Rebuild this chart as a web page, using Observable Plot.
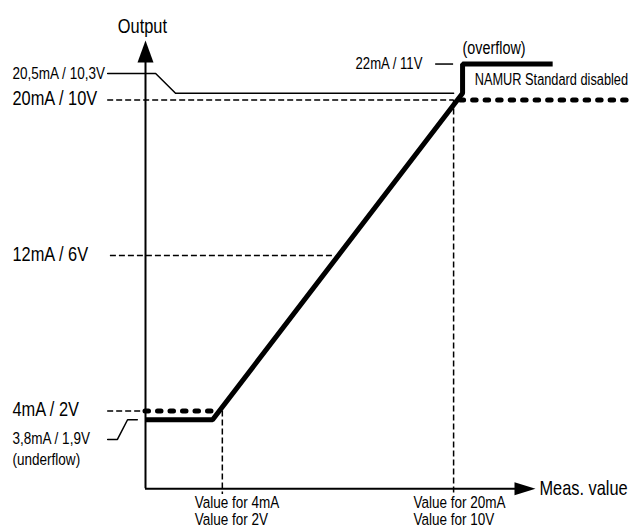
<!DOCTYPE html>
<html>
<head>
<meta charset="utf-8">
<script src="https://cdn.jsdelivr.net/npm/d3@7"></script>
<script src="https://cdn.jsdelivr.net/npm/@observablehq/plot@0.6"></script>
<style>
  html, body { margin: 0; padding: 0; background: #fff; }
  #chart { width: 641px; height: 528px; }
</style>
</head>
<body>
<div id="chart"></div>
<script>
// ---------------- data (output level as drawn in the schematic, measured value in % of axis) ----------------
const levelLabels = ["20mA / 10V", "12mA / 6V", "4mA / 2V"];
const levelValues = [20, 12, 4];
const levelGuideStart = [-9.7, -9.0, -9.7];
const levelGuideEnd = [79.0, 48.5, 0];

// thick output characteristic (underflow hold, linear range, jump to overflow)
const curveX = [0, 17.2, 81.3, 81.3, 104.4];
const curveY = [3.55, 3.55, 20.35, 21.85, 21.85];

// "NAMUR Standard disabled" continuation (thick dotted)
const dottedStart = [0, 80.8];
const dottedEnd = [18.7, 124.4];
const dottedLevel = [4, 20];

// NAMUR upper limit line (20,5mA) with its label leader
const namurX = [-9.7, 2.6, 7.7, 79.0];
const namurY = [21.36, 21.36, 20.35, 20.35];

// underflow label leader
const underLeadX = [-9.7, -7.2, -4.6, -2.1];
const underLeadY = [2.54, 2.54, 3.55, 3.55];

// overflow label leader
const overLeadX = [74.4, 79.0];
const overLevel = 21.85;

// measured-value markers on the x axis
const markX = [19.7, 79.0];
const markTop = [4, 20];
const markLabel1 = ["Value for 4mA", "Value for 20mA"];
const markLabel2 = ["Value for 2V", "Value for 10V"];
const markLabelX = [12.6, 68.7];

// small annotation texts on the left
const noteTexts = ["20,5mA / 10,3V", "3,8mA / 1,9V", "(underflow)"];
const noteY = [21.36, 2.59, 1.51];
const leftLabelX = -34.1;

// axes
const xAxisEnd = 100;
const yAxisEnd = 23.06;

// ---------------- font detection ----------------
const probe = document.createElement("canvas").getContext("2d");
function tw(font) { probe.font = font; return probe.measureText("20mA / 10V Value for").width; }
const hasNarrow = tw("20px 'Liberation Sans Narrow', 'Liberation Sans'") < 0.92 * tw("20px 'Liberation Sans'");
const FONT = hasNarrow ? "'Liberation Sans Narrow', 'Arial Narrow', sans-serif" : "'Liberation Sans', Arial, sans-serif";

// ---------------- tables built from arrays ----------------
const levels = levelLabels.map((label, i) => ({label, y: levelValues[i], x1: levelGuideStart[i], x2: levelGuideEnd[i]}));
const curve = curveX.map((x, i) => ({x, y: curveY[i]}));
const dotted = dottedStart.map((x1, i) => ({x1, x2: dottedEnd[i], y: dottedLevel[i]}));
const namur = namurX.map((x, i) => ({x, y: namurY[i]}));
const underLead = underLeadX.map((x, i) => ({x, y: underLeadY[i]}));
const marks = markX.map((x, i) => ({x, top: markTop[i], label: markLabel1[i] + "\n" + markLabel2[i], lx: markLabelX[i]}));
const notes = noteTexts.map((t, i) => ({t, y: noteY[i], x: leftLabelX}));

const arrowUp = {draw(ctx) { ctx.moveTo(0, 0); ctx.lineTo(8, 22); ctx.lineTo(-8, 22); ctx.closePath(); }};
const arrowRight = {draw(ctx) { ctx.moveTo(0, 0); ctx.lineTo(-21, -6.5); ctx.lineTo(-21, 6.5); ctx.closePath(); }};

const thin = 1.5;
const dash = "6,3";

const chart = Plot.plot({
  width: 641,
  height: 528,
  margin: 0,
  style: {background: "#fff", fontFamily: FONT},
  x: {domain: [0, 100], range: [145, 535], axis: null},
  y: {domain: [4, 20], range: [410.5, 99.5], axis: null},
  marks: [
    Plot.ruleY(levels, {y: "y", x1: "x1", x2: "x2", stroke: "#000", strokeWidth: thin, strokeDasharray: dash}),
    Plot.ruleX(marks, {x: "x", y1: "top", y2: -0.3, stroke: "#000", strokeWidth: thin, strokeDasharray: dash}),
    Plot.ruleY(dotted, {y: "y", x1: "x1", x2: "x2", stroke: "#000", strokeWidth: 5, strokeDasharray: "3.5,9", strokeLinecap: "round"}),
    Plot.line(namur, {x: "x", y: "y", stroke: "#000", strokeWidth: thin}),
    Plot.line(underLead, {x: "x", y: "y", stroke: "#000", strokeWidth: thin}),
    Plot.ruleY([overLevel], {x1: overLeadX[0], x2: overLeadX[1], stroke: "#000", strokeWidth: thin}),
    Plot.ruleX([0], {y1: 0, y2: yAxisEnd - 0.5, stroke: "#000", strokeWidth: 2}),
    Plot.ruleY([0], {x1: 0, x2: xAxisEnd - 4, stroke: "#000", strokeWidth: 2}),
    Plot.dot([yAxisEnd], {x: 0, y: (d) => d, symbol: arrowUp, fill: "#000", stroke: null}),
    Plot.dot([xAxisEnd], {x: (d) => d, y: 0, symbol: arrowRight, fill: "#000", stroke: null}),
    Plot.line(curve, {x: "x", y: "y", stroke: "#000", strokeWidth: 5, strokeLinejoin: "miter", strokeLinecap: "butt"}),
    Plot.text(levels, {x: leftLabelX, y: "y", text: "label", textAnchor: "start", fontSize: 20, fill: "#000", dy: -1}),
    Plot.text(notes, {x: "x", y: "y", text: "t", textAnchor: "start", fontSize: 16.5, fill: "#000"}),
    Plot.text(["22mA / 11V"], {x: 71.0, y: overLevel, text: (d) => d, textAnchor: "end", fontSize: 16, fill: "#000"}),
    Plot.text(["(overflow)"], {x: 81.3, y: 22.65, text: (d) => d, textAnchor: "start", fontSize: 17.5, fill: "#000"}),
    Plot.text(["NAMUR Standard disabled"], {x: 84.4, y: 21.05, text: (d) => d, textAnchor: "start", fontSize: 15.6, fill: "#000"}),
    Plot.text(["Output"], {x: -0.8, y: 23.78, text: (d) => d, textAnchor: "middle", fontSize: 20, fill: "#000"}),
    Plot.text(["Meas. value"], {x: 101, y: 0, text: (d) => d, textAnchor: "start", fontSize: 20, fill: "#000"}),
    Plot.text(marks, {x: "lx", y: -1.15, text: "label", textAnchor: "start", lineAnchor: "middle", lineHeight: 1.04, fontSize: 16.5, fill: "#000"})
  ]
});

// condensed lettering as in the original (horizontal squeeze when no narrow face exists)
if (!hasNarrow) {
  chart.querySelectorAll("text").forEach((t) => {
    const tr = t.getAttribute("transform") || "";
    t.setAttribute("transform", tr + " scale(0.82,1)");
  });
}
document.getElementById("chart").appendChild(chart);
</script>
</body>
</html>
